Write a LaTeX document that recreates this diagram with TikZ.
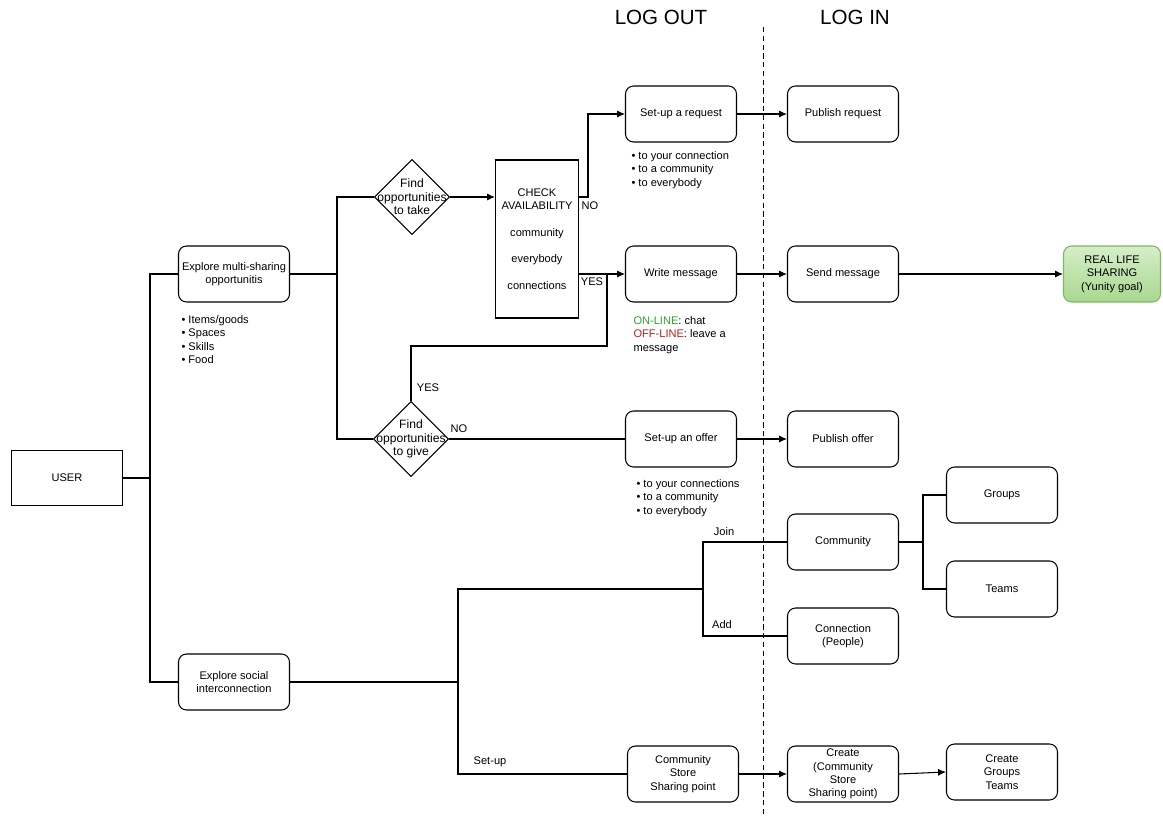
\documentclass[tikz,border=0pt]{standalone}
\usepackage{fontspec}
\setmainfont{Liberation Sans}
\usetikzlibrary{shapes.geometric,arrows.meta}
\definecolor{goalfill}{HTML}{A8D88E}
\definecolor{goaltop}{HTML}{D5EEC8}
\definecolor{goalline}{HTML}{82B366}
\definecolor{onlinegreen}{HTML}{2EA02E}
\definecolor{offlinered}{HTML}{B22222}
\begin{document}
\begin{tikzpicture}[x=0.02cm, y=-0.02cm, font=\fontsize{6.3}{7.6}\selectfont, line width=0.6pt]
        \tikzstyle{boxstyle}=[shape=rectangle, draw, rounded corners=0.16cm, align=center, inner sep=1pt, minimum width=2.22cm, minimum height=1.12cm]
        \tikzstyle{userstyle}=[shape=rectangle, draw, minimum width=2.22cm, minimum height=1.1cm]
        \tikzstyle{checkstyle}=[shape=rectangle, draw, align=center, inner sep=1pt, minimum width=1.66cm, minimum height=3.16cm]
        \tikzstyle{diamondstyle}=[shape=diamond, draw, inner sep=0cm, minimum width=1.5cm, minimum height=1.5cm]
        \tikzstyle{goalstyle}=[boxstyle, draw=goalline, top color=goaltop, bottom color=goalfill, minimum width=1.94cm]
        \tikzstyle{liststyle}=[anchor=north west, align=left, inner sep=0cm]
        \tikzstyle{thickline}=[line width=1.4pt]
        \tikzstyle{arrowstyle}=[arrows={-Latex[length=4.5pt, width=4pt]}]

        % fix the size of the picture
        \useasboundingbox (0, 0) rectangle (1163, 817);

        % titles and the line between log out and log in
        \node[font=\fontsize{11.7}{14}\selectfont] at (661, 17) (logout) {LOG OUT};
        \node[font=\fontsize{11.7}{14}\selectfont] at (855, 17) (login) {LOG IN};
        \coordinate (L1) at (763, 27);
        \coordinate (L2) at (763, 817);
        \draw[densely dashed, line width=0.5pt] (L1) -- (L2);

        % the user and the two main branches
        \node[userstyle] at (67, 478) (user) {USER};
        \node[boxstyle] at (234, 274) (multi) {Explore multi-sharing\\opportunitis};
        \node[boxstyle] at (234, 682) (social) {Explore social\\interconnection};
        \node[liststyle] at (181, 315) (multilist) {\textbullet\ Items/goods\\\textbullet\ Spaces\\\textbullet\ Skills\\\textbullet\ Food};

        \coordinate (T1) at (150, 478);
        \draw[thickline] (user.east) -- (T1);
        \draw[thickline] (multi.west) -| (T1) |- (social.west);

        % the two questions
        \node[diamondstyle, label={[align=center, font=\fontsize{6.9}{7.6}\selectfont]center:Find\\opportunities\\to take}] at (412, 197) (D1) {};
        \node[diamondstyle, label={[align=center, font=\fontsize{6.9}{7.6}\selectfont]center:Find\\opportunities\\to give}] at (411, 439) (D2) {};

        \coordinate (T2) at (337, 274);
        \draw (multi.east) -- (T2);
        \draw (D1.west) -| (T2) |- (D2.west);

        % check availability
        \node[checkstyle] at (537, 239) (check) {CHECK\\AVAILABILITY\\[7.6pt]community\\[7.6pt]everybody\\[7.6pt]connections};
        \draw[arrowstyle] (D1.east) -- (D1.east -| check.west);

        % requests, messages and offers
        \node[boxstyle] at (681, 114) (request) {Set-up a request};
        \node[boxstyle] at (681, 274) (write) {Write message};
        \node[boxstyle] at (681, 439) (offer) {Set-up an offer};
        \node[liststyle] at (631, 151) (requestlist) {\textbullet\ to your connection\\\textbullet\ to a community\\\textbullet\ to everybody};
        \node[liststyle] at (636, 479) (offerlist) {\textbullet\ to your connections\\\textbullet\ to a community\\\textbullet\ to everybody};
        \node[liststyle] at (633, 316) (writelist) {\textcolor{onlinegreen}{ON-LINE}: chat\\\textcolor{offlinered}{OFF-LINE}: leave a\\message};

        \draw[arrowstyle] (D1.east -| check.east) -- ++(9, 0) |- (request.west);
        \node at (590, 206) (no1) {NO};
        \draw[arrowstyle] (write.west -| check.east) -- (write.west);
        \node at (592, 282) (yes1) {YES};

        \coordinate (Y1) at (607, 274);
        \coordinate (Y2) at (607, 346);
        \draw (Y1) -- (Y2) -| (D2.north);
        \node at (428, 388) (yes2) {YES};

        \draw (D2.east) -- (offer.west);
        \node at (459, 429) (no2) {NO};

        % log in side
        \node[boxstyle] at (843, 114) (publishreq) {Publish request};
        \node[boxstyle] at (843, 274) (send) {Send message};
        \node[boxstyle] at (843, 439) (publishoffer) {Publish offer};
        \node[goalstyle] at (1112, 274) (goal) {REAL LIFE\\SHARING\\(Yunity goal)};

        \draw[arrowstyle] (request) -- (publishreq);
        \draw[arrowstyle] (write) -- (send);
        \draw[arrowstyle] (send) -- (goal);
        \draw[arrowstyle] (offer) -- (publishoffer);

        % social interconnection
        \node[boxstyle] at (843, 542) (community) {Community};
        \node[boxstyle] at (843, 636) (connection) {Connection\\(People)};
        \node[boxstyle] at (1002, 495) (groups) {Groups};
        \node[boxstyle] at (1002, 589) (teams) {Teams};
        \node[boxstyle] at (683, 774) (store) {Community\\Store\\Sharing point};
        \node[boxstyle] at (843, 774) (create) {Create\\(Community\\Store\\Sharing point)};
        \node[boxstyle] at (1002, 772) (createteams) {Create\\Groups\\Teams};

        \coordinate (S1) at (458, 682);
        \coordinate (S2) at (703, 589);
        \draw[thickline] (social.east) -- (S1);
        \draw[thickline] (S2) -| (S1) |- (store.west);
        \draw[thickline] (community.west) -| (S2) |- (connection.west);
        \node at (724, 532) (join) {Join};
        \node at (722, 625) (add) {Add};
        \node at (490, 762) (setup) {Set-up};

        \coordinate (G1) at (923, 542);
        \draw[thickline] (community.east) -- (G1);
        \draw[thickline] (groups.west) -| (G1) |- (teams.west);

        \draw[arrowstyle] (store) -- (create);
        \draw[arrowstyle] (create.east) -- (createteams.west);
    \end{tikzpicture}
\end{document}
